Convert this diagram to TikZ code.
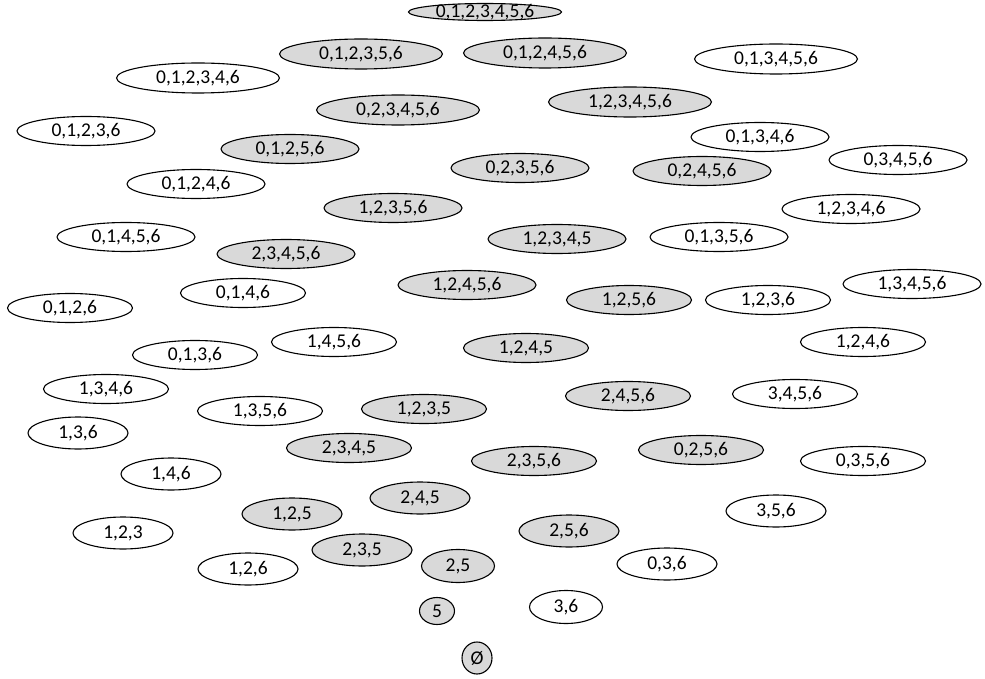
\documentclass[tikz,border=0pt]{standalone}
\usepackage{fontspec}
\setmainfont{Carlito}
\usetikzlibrary{shapes.geometric}
\definecolor{gfill}{HTML}{D9D9D9}
\tikzset{
  el/.style={ellipse, draw=black, line width=1.1pt, inner sep=0pt, fill=white},
  gel/.style={el, fill=gfill},
  s6/.style={minimum width=163pt, minimum height=30pt},
  s5/.style={minimum width=138pt, minimum height=29pt},
  s4/.style={minimum width=125pt, minimum height=29pt},
  s3/.style={minimum width=100pt, minimum height=32pt},
  s2/.style={minimum width=73pt, minimum height=33pt},
  every label/.style={inner sep=0pt, text=black}
}
\begin{document}
\begin{tikzpicture}[x=1pt,y=-1pt,font=\fontsize{19.5}{23}\selectfont]
\useasboundingbox (0,0) rectangle (985,679);
% gray nodes
\node[gel, minimum width=153pt, minimum height=17pt, label=center:{0,1,2,3,4,5,6}] (n0123456) at (485,12) {};
\node[gel, s6, label=center:{0,1,2,3,5,6}] (n012356) at (361,54) {};
\node[gel, s6, label=center:{0,1,2,4,5,6}] (n012456) at (545,53) {};
\node[gel, s6, label=center:{0,2,3,4,5,6}] (n023456) at (398,110) {};
\node[gel, s6, label=center:{1,2,3,4,5,6}] (n123456) at (630,102) {};
\node[gel, s5, label=center:{0,1,2,5,6}] (n01256) at (290,149) {};
\node[gel, s5, label=center:{0,2,3,5,6}] (n02356) at (520,168) {};
\node[gel, s5, label=center:{0,2,4,5,6}] (n02456) at (702,171) {};
\node[gel, s5, label=center:{1,2,3,5,6}] (n12356) at (393,208) {};
\node[gel, s5, label=center:{1,2,3,4,5}] (n12345) at (557,239) {};
\node[gel, s5, label=center:{2,3,4,5,6}] (n23456) at (286,254) {};
\node[gel, s5, label=center:{1,2,4,5,6}] (n12456) at (467,285) {};
\node[gel, s4, label=center:{1,2,5,6}] (n1256) at (629,300) {};
\node[gel, s4, label=center:{1,2,4,5}] (n1245) at (526,348) {};
\node[gel, s4, label=center:{2,4,5,6}] (n2456) at (628,396) {};
\node[gel, s4, label=center:{1,2,3,5}] (n1235) at (424,409) {};
\node[gel, s4, label=center:{2,3,4,5}] (n2345) at (349,448) {};
\node[gel, s4, label=center:{2,3,5,6}] (n2356) at (534,461) {};
\node[gel, s4, label=center:{0,2,5,6}] (n0256) at (701,450) {};
\node[gel, s3, label=center:{2,4,5}] (n245) at (420,498) {};
\node[gel, s3, label=center:{1,2,5}] (n125) at (292,514) {};
\node[gel, s3, label=center:{2,5,6}] (n256) at (569,531) {};
\node[gel, s3, label=center:{2,3,5}] (n235) at (362,550) {};
\node[gel, s2, label=center:{2,5}] (n25) at (458,566) {};
\node[gel, minimum width=35pt, minimum height=27pt, label=center:{5}] (n5) at (437,611) {};
\node[gel, minimum width=30pt, minimum height=32pt, label=center:{Ø}] (nempty) at (477,658) {};
% white nodes
\node[el, s6, label=center:{0,1,2,3,4,6}] (n012346) at (198,78) {};
\node[el, s6, label=center:{0,1,3,4,5,6}] (n013456) at (776,59) {};
\node[el, s5, label=center:{0,1,2,3,6}] (n01236) at (86,131) {};
\node[el, s5, label=center:{0,1,3,4,6}] (n01346) at (760,137) {};
\node[el, s5, label=center:{0,3,4,5,6}] (n03456) at (898,160) {};
\node[el, s5, label=center:{0,1,2,4,6}] (n01246) at (196,184) {};
\node[el, s5, label=center:{1,2,3,4,6}] (n12346) at (851,209) {};
\node[el, s5, label=center:{0,1,4,5,6}] (n01456) at (126,237) {};
\node[el, s5, label=center:{0,1,3,5,6}] (n01356) at (719,237) {};
\node[el, s5, label=center:{1,3,4,5,6}] (n13456) at (912,284) {};
\node[el, s4, label=center:{0,1,4,6}] (n0146) at (243,293) {};
\node[el, s4, label=center:{0,1,2,6}] (n0126) at (70,308) {};
\node[el, s4, label=center:{1,2,3,6}] (n1236) at (768,300) {};
\node[el, s4, label=center:{1,4,5,6}] (n1456) at (334,342) {};
\node[el, s4, label=center:{1,2,4,6}] (n1246) at (863,342) {};
\node[el, s4, label=center:{0,1,3,6}] (n0136) at (195,355) {};
\node[el, s4, label=center:{1,3,4,6}] (n1346) at (106,389) {};
\node[el, s4, label=center:{1,3,5,6}] (n1356) at (260,411) {};
\node[el, s4, label=center:{3,4,5,6}] (n3456) at (795,394) {};
\node[el, s4, label=center:{0,3,5,6}] (n0356) at (863,461) {};
\node[el, s3, label=center:{1,3,6}] (n136) at (78,433) {};
\node[el, s3, label=center:{1,4,6}] (n146) at (171,474) {};
\node[el, s3, label=center:{1,2,3}] (n123) at (123,533) {};
\node[el, s3, label=center:{1,2,6}] (n126) at (248,569) {};
\node[el, s3, label=center:{3,5,6}] (n356) at (776,511) {};
\node[el, s3, label=center:{0,3,6}] (n036) at (667,564) {};
\node[el, s2, label=center:{3,6}] (n36) at (566,607) {};
\end{tikzpicture}
\end{document}
